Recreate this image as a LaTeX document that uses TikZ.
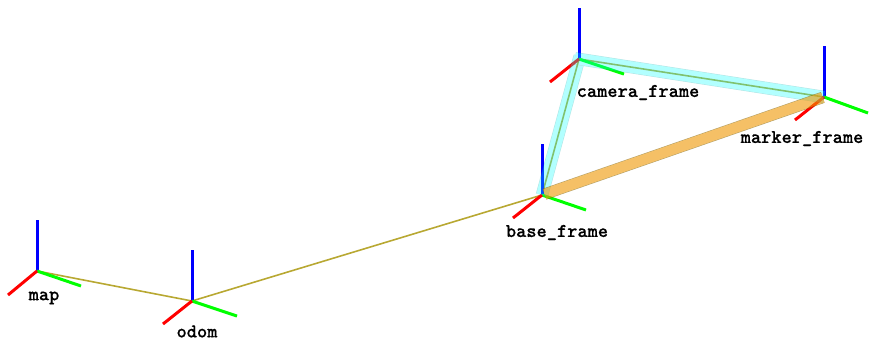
\documentclass[tikz,border=0pt]{standalone}
\usepackage{fontspec}
\usetikzlibrary{calc}
\newfontfamily\frametype[Extension=.otf,FakeBold=0.35]{lmmonolt10-bold}
\definecolor{axisred}{HTML}{FF0000}
\definecolor{axisgreen}{HTML}{00FF00}
\definecolor{axisblue}{HTML}{0000FF}
\definecolor{linkolive}{HTML}{B8A832}
\definecolor{bandcyan}{HTML}{00FFFF}
\definecolor{bandcyanedge}{HTML}{00A8A8}
\definecolor{bandorange}{HTML}{EE9600}
\definecolor{bandorangeedge}{HTML}{806000}
\newcommand{\framefont}{\fontsize{14.6}{16}\selectfont\frametype}
\tikzset{
  framept/.style={inner sep=0pt,minimum size=0pt},
  framelabel/.style={inner sep=0pt,font=\framefont},
  axisline/.style={line width=2.25pt},
  thinlink/.style={linkolive,line width=1.2pt},
  cyanband/.style={draw=bandcyanedge,double=bandcyan,line width=0.4pt,double distance=8.6pt},
  orangeband/.style={draw=bandorangeedge,double=bandorange,line width=0.4pt,double distance=7.8pt},
}
% frame origin, then the ends of its three axes
\newcommand{\tfaxes}[7]{%
  \draw[axisline,axisblue] (#1) -- (#2,#3);
  \draw[axisline,axisgreen] (#1) -- (#6,#7);
  \draw[axisline,axisred] (#1) -- (#4,#5);
}
\begin{document}
\begin{tikzpicture}[x=0.75pt,y=-0.75pt]
  \useasboundingbox (0,0) rectangle (869,340);

  \node[framept] (map) at (37,271) {};
  \node[framept] (odom) at (192,301) {};
  \node[framept] (base) at (542,195) {};
  \node[framept] (camera) at (579,59) {};
  \node[framept] (marker) at (824,97) {};

  % links
  \draw[thinlink] (map.center) -- (odom.center);
  \draw[thinlink] (odom.center) -- (base.center);
  \draw[thinlink] (base.center) -- (camera.center);
  \draw[thinlink] (camera.center) -- (marker.center);

  % axes
  \tfaxes{map.center}{37}{220}{8}{295}{81}{286}
  \tfaxes{odom.center}{192}{250}{163}{324}{237}{316}
  \tfaxes{base.center}{542}{144}{513}{218}{586}{210}
  \tfaxes{camera.center}{579}{8}{550}{82}{624}{74}
  \tfaxes{marker.center}{824}{46}{795}{120}{868}{113}

  % highlighted links
  \begin{scope}[transparency group,opacity=0.3]
    \draw[cyanband,shorten >=-2.2pt] (base.center) -- (camera.center);
    \draw[cyanband,shorten <=-3pt] (camera.center) -- (marker.center);
  \end{scope}
  \begin{scope}[transparency group,opacity=0.6]
    \draw[orangeband,shorten <=2pt,shorten >=1pt] (base.center) -- (marker.center);
  \end{scope}

  \node[framelabel] (maplabel) at (44,298) {map};
  \node[framelabel] (odomlabel) at (197,331.5) {odom};
  \node[framelabel] (baselabel) at (557,232.5) {base\_frame};
  \node[framelabel] (cameralabel) at (638,92.5) {camera\_frame};
  \node[framelabel] (markerlabel) at (802,138.5) {marker\_frame};
\end{tikzpicture}
\end{document}
